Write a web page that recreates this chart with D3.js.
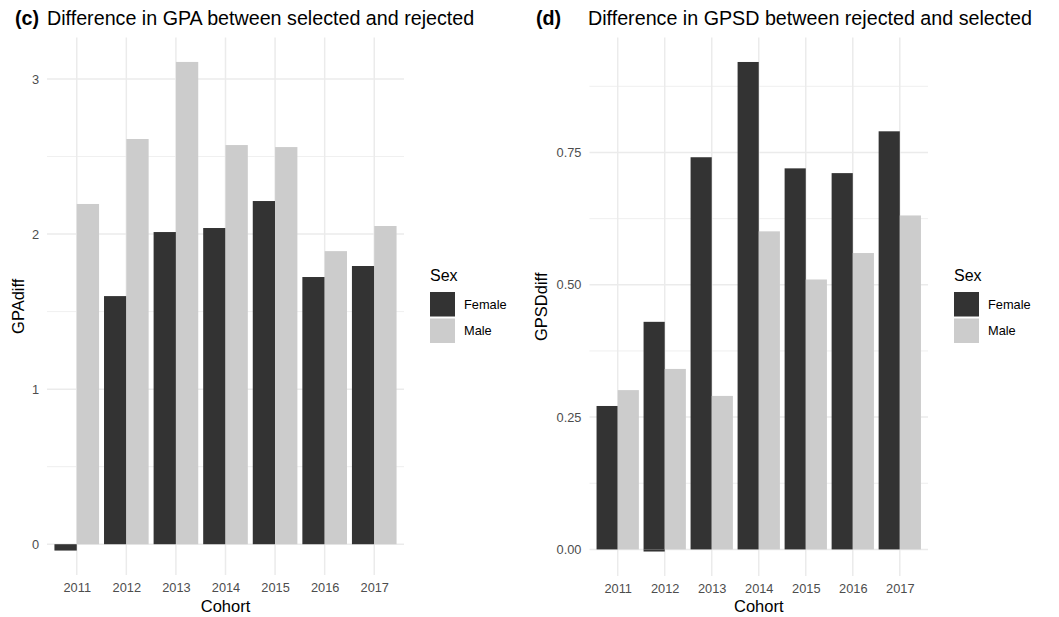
<!DOCTYPE html>
<html>
<head>
<meta charset="utf-8">
<script src="https://cdn.jsdelivr.net/npm/d3@7"></script>
<style>
  html, body { margin: 0; padding: 0; background: #ffffff; }
  svg { display: block; font-family: "Liberation Sans", Arial, Helvetica, sans-serif; }
</style>
</head>
<body>
<svg id="chart" width="1059" height="617"></svg>
<script>
// Cohorts on the x axis
const cohorts = ["2011", "2012", "2013", "2014", "2015", "2016", "2017"];
const sexes = ["Female", "Male"];

// Panel (c): GPA difference, selected minus rejected
const gpaFemale = [-0.041, 1.60, 2.013, 2.039, 2.213, 1.723, 1.794];
const gpaMale   = [2.194, 2.613, 3.11, 2.574, 2.561, 1.890, 2.052];

// Panel (d): GPSD difference, rejected minus selected
const gpsdFemale = [0.271, 0.430, 0.741, 0.921, 0.720, 0.711, 0.790];
const gpsdMale   = [0.301, 0.341, 0.290, 0.601, 0.510, 0.560, 0.631];
// a second, tiny negative Female row for 2012
const gpsdFemaleExtraCohort = ["2012"];
const gpsdFemaleExtra = [-0.004];

// Tick labels
const gpaTicks = [0, 1, 2, 3];
const gpsdTicks = [0, 0.25, 0.5, 0.75];

const fillColor = { Female: "#333333", Male: "#CCCCCC" };
const GRID = "#EBEBEB";

function rows(fem, male, extraC, extraV) {
  const out = [];
  cohorts.forEach((c, i) => {
    out.push({ cohort: c, sex: "Female", value: fem[i] });
    out.push({ cohort: c, sex: "Male", value: male[i] });
  });
  (extraC || []).forEach((c, i) => out.push({ cohort: c, sex: "Female", value: extraV[i] }));
  return out;
}

const svg = d3.select("#chart");

function drawPanel(opt) {
  const { data, left, right, top, bottom, ticks, fmt, yTitle, tag, title, tagX, titleX, legendX } = opt;
  const g = svg.append("g");

  const vals = data.map(d => d.value).concat([0]);
  const lo = d3.min(vals), hi = d3.max(vals);
  const pad = (hi - lo) * 0.05;
  const y = d3.scaleLinear().domain([lo - pad, hi + pad]).range([bottom, top]);
  const x = d3.scalePoint().domain(cohorts).range([left, right]).padding(0.6);
  const step = x.step();
  const half = step * 0.9 / 2;
  const sub = d3.scaleBand().domain(sexes).range([-half, half]);

  // minor horizontal grid at midpoints between major ticks
  const tStep = ticks[1] - ticks[0];
  const minor = [];
  for (let v = ticks[0] - tStep / 2; v <= y.domain()[1]; v += tStep) {
    if (v >= y.domain()[0]) minor.push(v);
  }
  g.append("g").selectAll("line").data(minor).join("line")
    .attr("x1", left).attr("x2", right)
    .attr("y1", d => y(d)).attr("y2", d => y(d))
    .attr("stroke", GRID).attr("stroke-width", 0.8);

  // major horizontal grid
  g.append("g").selectAll("line").data(ticks).join("line")
    .attr("x1", left).attr("x2", right)
    .attr("y1", d => y(d)).attr("y2", d => y(d))
    .attr("stroke", GRID).attr("stroke-width", 1.5);

  // vertical grid at each cohort
  g.append("g").selectAll("line").data(cohorts).join("line")
    .attr("x1", d => x(d)).attr("x2", d => x(d))
    .attr("y1", top).attr("y2", bottom)
    .attr("stroke", GRID).attr("stroke-width", 1.5);

  // bars
  g.append("g").selectAll("rect").data(data).join("rect")
    .attr("x", d => x(d.cohort) + sub(d.sex))
    .attr("width", sub.bandwidth())
    .attr("y", d => y(Math.max(0, d.value)))
    .attr("height", d => Math.abs(y(d.value) - y(0)))
    .attr("fill", d => fillColor[d.sex]);

  // y axis labels
  const ya = g.append("g").attr("transform", `translate(${left},0)`)
    .call(d3.axisLeft(y).tickValues(ticks).tickFormat(fmt).tickSize(0).tickPadding(8));
  ya.select(".domain").remove();
  ya.selectAll("text").attr("fill", "#4D4D4D").attr("font-size", 12.8)
    .attr("font-family", "Liberation Sans, Arial, sans-serif");

  // x axis labels
  const xa = g.append("g").attr("transform", `translate(0,${bottom})`)
    .call(d3.axisBottom(x).tickSize(0).tickPadding(8));
  xa.select(".domain").remove();
  xa.selectAll("text").attr("fill", "#4D4D4D").attr("font-size", 12.8)
    .attr("font-family", "Liberation Sans, Arial, sans-serif");

  // axis titles
  g.append("text").attr("x", (left + right) / 2).attr("y", 612)
    .attr("text-anchor", "middle").attr("font-size", 16.5).attr("fill", "#000")
    .text("Cohort");
  g.append("text")
    .attr("transform", `translate(${opt.yTitleX},${(top + bottom) / 2}) rotate(-90)`)
    .attr("text-anchor", "middle").attr("font-size", 16.5).attr("fill", "#000")
    .text(yTitle);

  // title
  g.append("text").attr("x", tagX).attr("y", 25)
    .attr("font-size", 19.7).attr("font-weight", "bold").attr("fill", "#000").text(tag);
  g.append("text").attr("x", titleX).attr("y", 25)
    .attr("font-size", 19.7).attr("fill", "#000").text(title);

  // legend
  const lg = g.append("g").attr("transform", `translate(${legendX},0)`);
  lg.append("text").attr("x", 0).attr("y", 281).attr("font-size", 16)
    .attr("fill", "#000").text("Sex");
  const keyY = { Female: 292, Male: 318.5 };
  sexes.forEach(s => {
    lg.append("rect").attr("x", 0).attr("y", keyY[s]).attr("width", 25).attr("height", 24.5)
      .attr("fill", fillColor[s]);
    lg.append("text").attr("x", 34).attr("y", keyY[s] + 12.25).attr("dy", "0.35em")
      .attr("font-size", 12.8).attr("fill", "#000").text(s);
  });
}

drawPanel({
  data: rows(gpaFemale, gpaMale),
  left: 47, right: 404, top: 37.5, bottom: 575,
  ticks: gpaTicks, fmt: d3.format("d"),
  yTitle: "GPAdiff", yTitleX: 24,
  tag: "(c)", title: "Difference in GPA between selected and rejected",
  tagX: 15, titleX: 47, legendX: 430
});

drawPanel({
  data: rows(gpsdFemale, gpsdMale, gpsdFemaleExtraCohort, gpsdFemaleExtra),
  left: 589.5, right: 928, top: 37.5, bottom: 576,
  ticks: gpsdTicks, fmt: d3.format(".2f"),
  yTitle: "GPSDdiff", yTitleX: 547,
  tag: "(d)", title: "Difference in GPSD between rejected and selected",
  tagX: 536, titleX: 588, legendX: 954
});
</script>
</body>
</html>
